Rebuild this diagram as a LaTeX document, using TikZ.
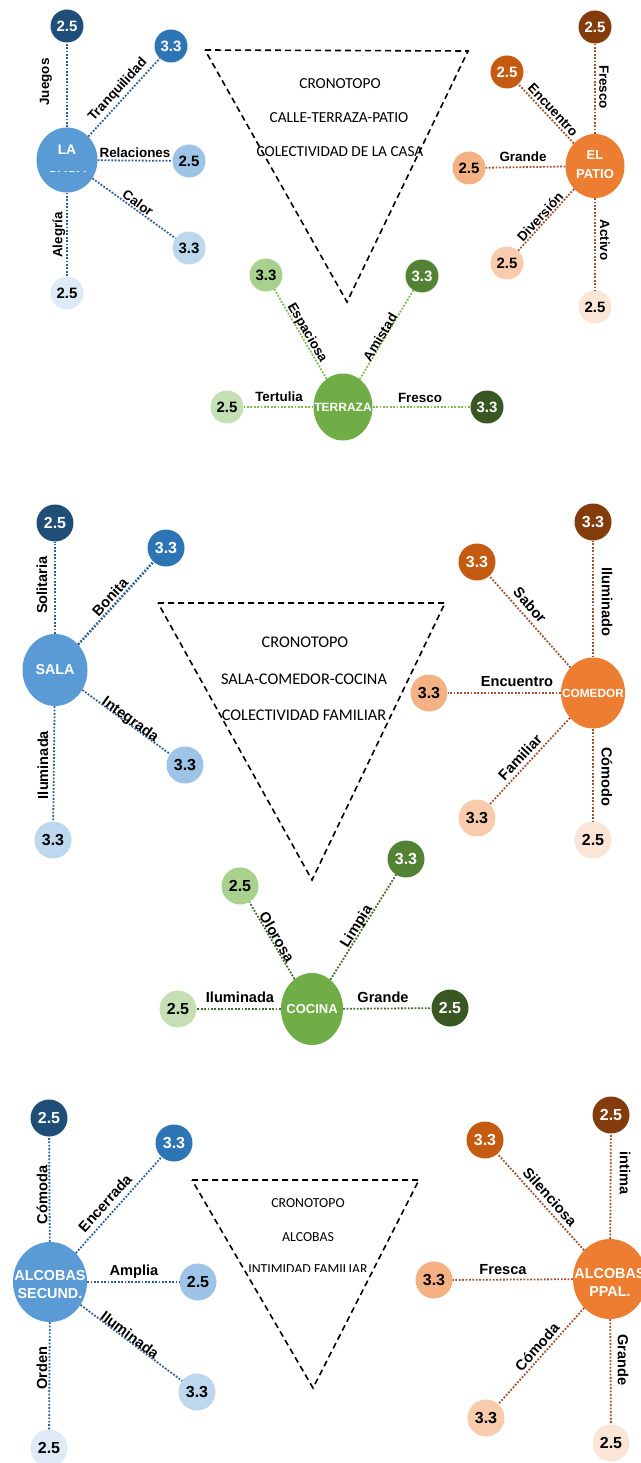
\documentclass[tikz,border=0pt]{standalone}
\usepackage{fontspec}
\setmainfont{Liberation Sans}
\newfontfamily\calfont{Carlito}
\usetikzlibrary{shapes.geometric}
\definecolor{bA}{HTML}{1F4E79}
\definecolor{bB}{HTML}{2E75B6}
\definecolor{bC}{HTML}{5B9BD5}
\definecolor{bD}{HTML}{9DC3E6}
\definecolor{bE}{HTML}{BDD7EE}
\definecolor{bF}{HTML}{DEEBF7}
\definecolor{oA}{HTML}{843C0C}
\definecolor{oB}{HTML}{C55A11}
\definecolor{oC}{HTML}{ED7D31}
\definecolor{oD}{HTML}{F4B183}
\definecolor{oE}{HTML}{F8CBAD}
\definecolor{oF}{HTML}{FBE5D6}
\definecolor{gA}{HTML}{385723}
\definecolor{gB}{HTML}{548235}
\definecolor{gC}{HTML}{70AD47}
\definecolor{gD}{HTML}{A9D18E}
\definecolor{gE}{HTML}{C5E0B4}
\definecolor{lnB}{HTML}{2F5F98}
\definecolor{lnO}{HTML}{A0522D}
\definecolor{lnG}{HTML}{7CC04A}
\definecolor{lnGd}{HTML}{3E6E28}
\tikzset{
  hubnode/.style={ellipse, fill=#1, inner sep=0pt},
  hubtext/.style={inner sep=0pt, text=white, align=center},
  satone/.style={circle, fill=#1, inner sep=0pt, minimum size=33pt, font=\fontsize{15}{15}\selectfont\bfseries},
  sattwo/.style={circle, fill=#1, inner sep=0pt, minimum size=37pt, font=\fontsize{16}{16}\selectfont\bfseries},
  wt/.style={text=white},
  lblone/.style={inner sep=0pt, font=\fontsize{13.4}{13.4}\selectfont\bfseries},
  lbltwo/.style={inner sep=0pt, font=\fontsize{14.6}{14.6}\selectfont\bfseries},
  conn/.style={line width=1.8pt, dash pattern=on 1.8pt off 1.6pt, draw=#1},
  tri/.style={line width=1.6pt, dash pattern=on 6pt off 4pt, black},
  tritext/.style={inner sep=0pt, font=\calfont\fontsize{#1}{#1}\selectfont}
}
\begin{document}
\begin{tikzpicture}[x=1pt,y=-1pt]
\useasboundingbox (0,0) rectangle (640,1463);
\fill[white] (0,0) rectangle (640,1463);

%% ================= SECTION 1 =================
\draw[tri] (205,50) -- (468,51) -- (347,302) -- cycle;
\node[tritext=15.3] (t1a) at (340,84) {CRONOTOPO};
\node[tritext=15.3] (t1b) at (339,118) {CALLE-TERRAZA-PATIO};
\node[tritext=15.3] (t1c) at (340,152) {COLECTIVIDAD DE LA CASA};

% LA CASA
\node[hubnode=bC, minimum width=61pt, minimum height=65pt] (casa) at (67,160) {};
\node[hubtext, font=\fontsize{13.8}{13.8}\selectfont\bfseries] (casaA) at (67,150) {LA};
\begin{scope}
\clip (40,171.5) rectangle (95,175.5);
\node[hubtext, font=\fontsize{13.8}{13.8}\selectfont\bfseries] (casaB) at (67,168) {CASA};
\end{scope}
\node[satone=bA, wt] (c1) at (67,26) {2.5};
\node[satone=bB, wt] (c2) at (171,46) {3.3};
\node[satone=bD] (c3) at (189,161) {2.5};
\node[satone=bE] (c4) at (189,248) {3.3};
\node[satone=bF] (c5) at (67,293) {2.5};
\draw[conn=lnB] (casa) -- (c1);
\draw[conn=lnB] (casa) -- (c2);
\draw[conn=lnB] (casa) -- (c3);
\draw[conn=lnB] (casa) -- (c4);
\draw[conn=lnB] (casa) -- (c5);
\node[lblone, rotate=90] (lc1) at (46,82) {Juegos};
\node[lblone, rotate=47.6] (lc2) at (118,90) {Tranquilidad};
\node[lblone] (lc3) at (135,153) {Relaciones};
\node[lblone, rotate=-35.8] (lc4) at (138,203) {Calor};
\node[lblone, rotate=90] (lc5) at (59,235) {Alegría};

% EL PATIO
\node[hubnode=oC, minimum width=59pt, minimum height=64pt] (patio) at (595,166) {};
\node[hubtext, font=\fontsize{13}{19}\selectfont\bfseries] (patioT) at (595,165) {EL\\PATIO};
\node[satone=oA, wt] (p1) at (595,27) {2.5};
\node[satone=oB, wt] (p2) at (507,72) {2.5};
\node[satone=oD] (p3) at (469,168) {2.5};
\node[satone=oE] (p4) at (507,263) {2.5};
\node[satone=oF] (p5) at (595,307) {2.5};
\draw[conn=lnO] (patio) -- (p1);
\draw[conn=lnO] (patio) -- (p2);
\draw[conn=lnO] (patio) -- (p3);
\draw[conn=lnO] (patio) -- (p4);
\draw[conn=lnO] (patio) -- (p5);
\node[lblone, rotate=-90] (lp1) at (604,87) {Fresco};
\node[lblone, rotate=-47] (lp2) at (553,110) {Encuentro};
\node[lblone] (lp3) at (523,157) {Grande};
\node[lblone, rotate=47.8] (lp4) at (540,217) {Diversión};
\node[lblone, rotate=-90] (lp5) at (605,240) {Activo};

% TERRAZA
\node[hubnode=gC, minimum width=59pt, minimum height=67pt] (terraza) at (343,407) {};
\node[hubtext, font=\fontsize{12}{12}\selectfont\bfseries] (terrazaT) at (343,407) {TERRAZA};
\node[satone=gD] (r1) at (266,275) {3.3};
\node[satone=gB, wt] (r2) at (422,276) {3.3};
\node[satone=gE] (r3) at (227,407) {2.5};
\node[satone=gA, wt] (r4) at (487,407) {3.3};
\draw[conn=lnG] (terraza) -- (r1);
\draw[conn=lnG] (terraza) -- (r2);
\draw[conn=lnG] (terraza) -- (r3);
\draw[conn=lnG] (terraza) -- (r4);
\node[lblone, rotate=-59.7] (lr1) at (307,333) {Espaciosa};
\node[lblone, rotate=59] (lr2) at (380,337) {Amistad};
\node[lblone] (lr3) at (279,397) {Tertulia};
\node[lblone] (lr4) at (420,398) {Fresco};

%% ================= SECTION 2 =================
\draw[tri] (158,603) -- (445,603) -- (312,880) -- cycle;
\node[tritext=16.3] (t2a) at (305,642) {CRONOTOPO};
\node[tritext=16.3] (t2b) at (304,679) {SALA-COMEDOR-COCINA};
\node[tritext=16.3] (t2c) at (304,715) {COLECTIVIDAD FAMILIAR};

% SALA
\node[hubnode=bC, minimum width=65pt, minimum height=72pt] (sala) at (55,670) {};
\node[hubtext, font=\fontsize{14.3}{14.3}\selectfont\bfseries] (salaT) at (55,670) {SALA};
\node[sattwo=bA, wt] (s1) at (55,523) {2.5};
\node[sattwo=bB, wt] (s2) at (166,548) {3.3};
\node[sattwo=bD] (s3) at (185,765) {3.3};
\node[sattwo=bE] (s4) at (53,840) {3.3};
\draw[conn=lnB] (sala) -- (s1);
\draw[conn=lnB, line width=2.6pt] (sala) -- (s2);
\draw[conn=lnB] (sala) -- (s3);
\draw[conn=lnB] (sala) -- (s4);
\node[lbltwo, rotate=90] (ls1) at (42,585) {Solitaria};
\node[lbltwo, rotate=47.7] (ls2) at (110,597) {Bonita};
\node[lbltwo, rotate=-36] (ls3) at (130,720) {Integrada};
\node[lbltwo, rotate=90] (ls4) at (43,765) {Iluminada};

% COMEDOR
\node[hubnode=oC, minimum width=64pt, minimum height=71pt] (comedor) at (593,693) {};
\node[hubtext, font=\fontsize{11.8}{11.8}\selectfont\bfseries] (comedorT) at (593,693) {COMEDOR};
\node[sattwo=oA, wt] (m1) at (593,522) {3.3};
\node[sattwo=oB, wt] (m2) at (477,562) {3.3};
\node[sattwo=oD] (m3) at (429,693) {3.3};
\node[sattwo=oE] (m4) at (477,818) {3.3};
\node[sattwo=oF] (m5) at (593,840) {2.5};
\draw[conn=lnO] (comedor) -- (m1);
\draw[conn=lnO] (comedor) -- (m2);
\draw[conn=lnO] (comedor) -- (m3);
\draw[conn=lnO] (comedor) -- (m4);
\draw[conn=lnO] (comedor) -- (m5);
\node[lbltwo, rotate=-90] (lm1) at (607,602) {Iluminado};
\node[lbltwo, rotate=-48.5] (lm2) at (530,605) {Sabor};
\node[lbltwo] (lm3) at (517,682) {Encuentro};
\node[lbltwo, rotate=47] (lm4) at (520,757) {Familiar};
\node[lbltwo, rotate=-90] (lm5) at (607,777) {Cómodo};

% COCINA
\node[hubnode=gC, minimum width=62pt, minimum height=72pt] (cocina) at (312,1009) {};
\node[hubtext, font=\fontsize{13}{13}\selectfont\bfseries] (cocinaT) at (312,1009) {COCINA};
\node[sattwo=gD] (k1) at (240,886) {2.5};
\node[sattwo=gB, wt] (k2) at (406,859) {3.3};
\node[sattwo=gE] (k3) at (178,1009) {2.5};
\node[sattwo=gA, wt] (k4) at (450,1008) {2.5};
\draw[conn=lnGd] (cocina) -- (k1);
\draw[conn=lnGd] (cocina) -- (k2);
\draw[conn=lnGd] (cocina) -- (k3);
\draw[conn=lnGd] (cocina) -- (k4);
\node[lbltwo, rotate=-59.7] (lk1) at (277,937) {Olorosa};
\node[lbltwo, rotate=58] (lk2) at (357,927) {Limpia};
\node[lbltwo] (lk3) at (240,997) {Iluminada};
\node[lbltwo] (lk4) at (383,997) {Grande};

%% ================= SECTION 3 =================
\draw[tri] (192,1180) -- (419,1180) -- (313,1388) -- cycle;
\node[tritext=13.8] (t3a) at (308,1203) {CRONOTOPO};
\node[tritext=13.8] (t3b) at (308,1237) {ALCOBAS};
\begin{scope}
\clip (200,1255) rectangle (420,1271.5);
\node[tritext=13.8] (t3c) at (308,1269.5) {INTIMIDAD FAMILIAR};
\end{scope}

% ALCOBAS SECUND.
\node[hubnode=bC, minimum width=74pt, minimum height=80pt] (asec) at (50,1282) {};
\node[hubtext, font=\fontsize{14.4}{18}\selectfont\bfseries] (asecT) at (50,1285) {ALCOBAS\\SECUND.};
\node[sattwo=bA, wt] (a1) at (49,1118) {2.5};
\node[sattwo=bB, wt] (a2) at (174,1143) {3.3};
\node[sattwo=bD] (a3) at (198,1282) {2.5};
\node[sattwo=bE] (a4) at (197,1392) {3.3};
\node[sattwo=bF] (a5) at (49,1448) {2.5};
\draw[conn=lnB] (asec) -- (a1);
\draw[conn=lnB] (asec) -- (a2);
\draw[conn=lnB] (asec) -- (a3);
\draw[conn=lnB] (asec) -- (a4);
\draw[conn=lnB] (asec) -- (a5);
\node[lbltwo, rotate=90] (la1) at (42,1195) {Cómoda};
\node[lbltwo, rotate=48] (la2) at (105,1203) {Encerrada};
\node[lbltwo] (la3) at (134,1272) {Amplia};
\node[lbltwo, rotate=-36.8] (la4) at (130,1335) {Iluminada};
\node[lbltwo, rotate=90] (la5) at (42,1368) {Orden};

% ALCOBAS PPAL.
\node[hubnode=oC, minimum width=74pt, minimum height=80pt] (appal) at (610,1279) {};
\node[hubtext, font=\fontsize{14.4}{18}\selectfont\bfseries] (appalT) at (610,1282) {ALCOBAS\\PPAL.};
\node[sattwo=oA, wt] (q1) at (611,1115) {2.5};
\node[sattwo=oB, wt] (q2) at (485,1140) {3.3};
\node[sattwo=oD] (q3) at (434,1280) {3.3};
\node[sattwo=oE] (q4) at (486,1418) {3.3};
\node[sattwo=oF] (q5) at (611,1443) {2.5};
\draw[conn=lnO] (appal) -- (q1);
\draw[conn=lnO] (appal) -- (q2);
\draw[conn=lnO] (appal) -- (q3);
\draw[conn=lnO] (appal) -- (q4);
\draw[conn=lnO] (appal) -- (q5);
\node[lbltwo, rotate=-90] (lq1) at (625,1173) {intima};
\node[lbltwo, rotate=-48] (lq2) at (550,1197) {Silenciosa};
\node[lbltwo] (lq3) at (503,1270) {Fresca};
\node[lbltwo, rotate=48.3] (lq4) at (537,1347) {Cómoda};
\node[lbltwo, rotate=-90] (lq5) at (623,1360) {Grande};
\end{tikzpicture}
\end{document}
